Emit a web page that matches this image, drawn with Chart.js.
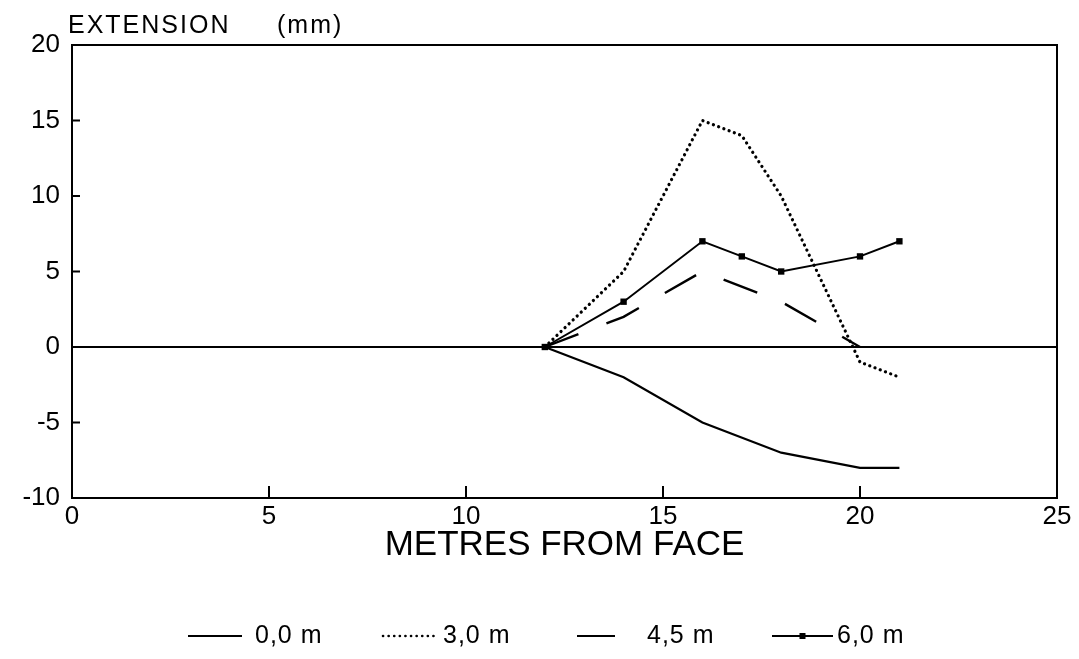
<!DOCTYPE html>
<html>
<head>
<meta charset="utf-8">
<script src="https://cdn.jsdelivr.net/npm/chart.js@4.4.0/dist/chart.umd.min.js"></script>
<style>
    html, body { margin: 0; padding: 0; background: #fff; }
    #wrap { width: 1079px; height: 659px; }
</style>
</head>
<body>
<div id="wrap"><canvas id="main_chart" width="1079" height="659"></canvas></div>
<script>
// chart data
const seriesNames = ["0,0 m", "3,0 m", "4,5 m", "6,0 m"];
const xTicks = [0, 5, 10, 15, 20, 25];
const yTicks = [-10, -5, 0, 5, 10, 15, 20];

const x00 = [12, 14, 16, 18, 20, 21];
const y00 = [0, -2, -5, -7, -8, -8];
const x30 = [12, 14, 16, 17, 18, 20, 21];
const y30 = [0, 5, 15, 14, 10, -1, -2];
const x45 = [12, 14, 16, 18, 20];
const y45 = [0, 2, 5, 3, 0];
const x60 = [12, 14, 16, 17, 18, 20, 21];
const y60 = [0, 3, 7, 6, 5, 6, 7];

const FONT = "'Liberation Sans', Arial, sans-serif";

function pts(xs, ys) {
    return xs.map((x, i) => ({ x: x, y: ys[i] }));
}

// line styles for each series, reused by the legend
const styles = [
    { dash: [], cap: "butt", width: 2.2, marker: false },
    { dash: [0.1, 5.5], cap: "round", width: 3.2, marker: false },
    { dash: [36, 30], cap: "butt", width: 2.4, marker: false },
    { dash: [], cap: "butt", width: 2, marker: true }
];

const allX = [x00, x30, x45, x60];
const allY = [y00, y30, y45, y60];

let datasets = [];
for (let i = 0; i < seriesNames.length; i++) {
    datasets.push({
        label: seriesNames[i],
        data: pts(allX[i], allY[i]),
        showLine: true,
        borderColor: "#000",
        backgroundColor: "#000",
        borderWidth: styles[i].width,
        borderDash: styles[i].dash,
        borderCapStyle: styles[i].cap,
        tension: 0,
        pointRadius: styles[i].marker ? 4.5 : 0,
        pointStyle: "rect",
        pointBackgroundColor: "#000",
        pointBorderWidth: 0
    });
}

// frame on top/right + inward tick marks, and the top label / legend
const decor = {
    id: "decor",
    afterDraw(chart) {
        const ctx = chart.ctx;
        const a = chart.chartArea;
        const sx = chart.scales.x;
        const sy = chart.scales.y;
        ctx.save();
        ctx.strokeStyle = "#000";
        ctx.lineWidth = 2;
        ctx.beginPath();
        ctx.moveTo(a.left, a.top);
        ctx.lineTo(a.right, a.top);
        ctx.lineTo(a.right, a.bottom);
        ctx.stroke();

        ctx.beginPath();
        xTicks.forEach((v) => {
            if (v == sx.min || v == sx.max) return;
            const px = sx.getPixelForValue(v);
            ctx.moveTo(px, a.bottom);
            ctx.lineTo(px, a.bottom - 12);
        });
        yTicks.forEach((v) => {
            if (v == sy.min || v == sy.max || v == 0) return;
            const py = sy.getPixelForValue(v);
            ctx.moveTo(a.left, py);
            ctx.lineTo(a.left + 8, py);
        });
        ctx.stroke();

        // y axis caption
        ctx.fillStyle = "#000";
        ctx.font = "25px " + FONT;
        ctx.textBaseline = "alphabetic";
        ctx.textAlign = "left";
        ctx.letterSpacing = "2px";
        ctx.fillText("EXTENSION", 68, 33);
        ctx.fillText("(mm)", 277, 33);

        // legend
        ctx.letterSpacing = "1px";
        ctx.font = "25px " + FONT;
        const ly = 636;
        const items = [
            { x1: 188, x2: 242, tx: 255 },
            { x1: 383, x2: 437, tx: 443 },
            { x1: 577, x2: 615, tx: 647 },
            { x1: 772, x2: 833, tx: 837 }
        ];
        items.forEach((it, i) => {
            ctx.save();
            ctx.lineWidth = i == 1 ? 2.6 : 2;
            ctx.lineCap = styles[i].cap;
            ctx.setLineDash(i == 1 ? [0.1, 5.5] : []);
            ctx.beginPath();
            ctx.moveTo(it.x1, ly);
            ctx.lineTo(it.x2, ly);
            ctx.stroke();
            if (styles[i].marker) {
                ctx.fillRect((it.x1 + it.x2) / 2 - 3, ly - 3, 6, 6);
            }
            ctx.restore();
            ctx.textBaseline = "middle";
            ctx.fillText(seriesNames[i], it.tx, ly);
        });
        ctx.restore();
    }
};

let chart1 = new Chart(document.getElementById("main_chart"), {
    type: "scatter",
    data: { datasets: datasets },
    options: {
        responsive: false,
        animation: false,
        devicePixelRatio: 1,
        layout: { padding: { top: 45, right: 22, left: 0, bottom: 0 } },
        plugins: {
            legend: { display: false },
            tooltip: { enabled: false }
        },
        scales: {
            x: {
                type: "linear",
                min: 0,
                max: 25,
                afterFit: (s) => { s.height = 161; },
                afterBuildTicks: (s) => { s.ticks = xTicks.map((v) => ({ value: v })); },
                ticks: {
                    color: "#000",
                    padding: 3,
                    font: { family: FONT, size: 26 }
                },
                grid: { drawOnChartArea: false, drawTicks: false },
                border: { display: true, color: "#000", width: 2 },
                title: {
                    display: true,
                    text: "METRES FROM FACE",
                    color: "#000",
                    font: { family: FONT, size: 35 },
                    padding: { top: 0, bottom: 93 }
                }
            },
            y: {
                type: "linear",
                min: -10,
                max: 20,
                afterFit: (s) => { s.width = 72; },
                afterBuildTicks: (s) => { s.ticks = yTicks.map((v) => ({ value: v })); },
                ticks: {
                    color: "#000",
                    padding: 12,
                    font: { family: FONT, size: 26 }
                },
                grid: {
                    drawTicks: false,
                    lineWidth: 2,
                    color: (c) => (c.tick && c.tick.value == 0 ? "#000" : "rgba(0,0,0,0)")
                },
                border: { display: true, color: "#000", width: 2 }
            }
        }
    },
    plugins: [decor]
});
</script>
</body>
</html>
